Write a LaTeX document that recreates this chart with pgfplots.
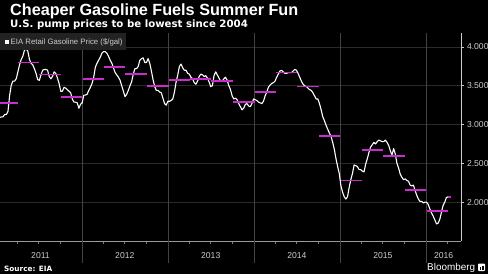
\documentclass[border=0pt]{standalone}
\usepackage{pgfplots}
\pgfplotsset{compat=1.18}
\usepgfplotslibrary{dateplot}
\usepackage{fontspec}
\setmainfont{Liberation Sans}
\newfontfamily\dejavu{DejaVu Sans}
\definecolor{qmag}{RGB}{204,44,204}
\definecolor{gridh}{RGB}{42,42,42}
\definecolor{gridv}{RGB}{66,66,66}
\definecolor{lab}{RGB}{205,205,205}
\definecolor{legbg}{RGB}{34,34,34}
\begin{document}
\begin{tikzpicture}
\fill[black] (0,-33bp) rectangle (488bp,241bp);
\path[use as bounding box] (0,-33bp) rectangle (488bp,241bp);
\begin{axis}[
  at={(0,0)}, anchor=south west,
  scale only axis, width=461bp, height=208bp,
  date coordinates in=x,
  xmin=2011-01-18, xmax=2016-05-29,
  ymin=1.5, ymax=4.18,
  axis x line*=bottom, axis y line*=right,
  x axis line style={draw=lab!75!black, line width=0.8bp},
  y axis line style={draw=lab, line width=0.8bp},
  tick align=outside,
  major tick length=2.5bp, minor tick length=2.5bp,
  xtick={2011-07-09,2012-07-01,2013-07-01,2014-07-02,2015-07-02,2016-03-16},
  xticklabels={2011,2012,2013,2014,2015,2016},
  xtick style={draw=none},
  minor xtick={2011-04-01,2011-07-01,2011-10-01,2012-04-01,2012-07-01,2012-10-01,2013-04-01,2013-07-01,2013-10-01,2014-04-01,2014-07-01,2014-10-01,2015-04-01,2015-07-01,2015-10-01,2016-04-01},
  minor x tick style={draw=lab!60!black, line width=0.6bp},
  extra x ticks={2012-01-01,2013-01-01,2014-01-01,2015-01-01,2016-01-01},
  extra x tick labels={},
  extra x tick style={grid=major, major grid style={draw=gridv, line width=0.8bp}, major tick length=22bp, xtick style={draw=gridv, line width=0.8bp}},
  ytick={2,2.5,3,3.5,4},
  ymajorgrids, major grid style={draw=gridh, line width=0.8bp},
  ytick style={draw=lab, line width=0.6bp},
  tick label style={text=lab, font=\fontsize{8.6bp}{10bp}\selectfont},
  xticklabel style={anchor=base, yshift=-15bp},
  yticklabel style={anchor=west, /pgf/number format/fixed, /pgf/number format/fixed zerofill, /pgf/number format/precision=3, /pgf/number format/assume math mode=true},
  unbounded coords=jump,
]
\addplot[white, line width=1.1bp, line join=round] table[x=date, y=p] {
date p
2011-01-10 3.07
2011-01-17 3.09
2011-01-24 3.10
2011-01-31 3.10
2011-02-07 3.13
2011-02-14 3.13
2011-02-21 3.17
2011-02-28 3.38
2011-03-07 3.51
2011-03-14 3.56
2011-03-21 3.56
2011-03-28 3.59
2011-04-04 3.68
2011-04-11 3.77
2011-04-18 3.84
2011-04-25 3.88
2011-05-02 3.96
2011-05-09 3.97
2011-05-16 3.95
2011-05-23 3.84
2011-05-30 3.79
2011-06-06 3.77
2011-06-13 3.72
2011-06-20 3.66
2011-06-27 3.58
2011-07-04 3.57
2011-07-11 3.64
2011-07-18 3.70
2011-07-25 3.71
2011-08-01 3.71
2011-08-08 3.70
2011-08-15 3.62
2011-08-22 3.59
2011-08-29 3.62
2011-09-05 3.68
2011-09-12 3.66
2011-09-19 3.60
2011-09-26 3.53
2011-10-03 3.43
2011-10-10 3.43
2011-10-17 3.48
2011-10-24 3.47
2011-10-31 3.45
2011-11-07 3.43
2011-11-14 3.41
2011-11-21 3.33
2011-11-28 3.29
2011-12-05 3.29
2011-12-12 3.28
2011-12-19 3.21
2011-12-26 3.26
2012-01-02 3.28
2012-01-09 3.38
2012-01-16 3.38
2012-01-23 3.39
2012-01-30 3.44
2012-02-06 3.48
2012-02-13 3.53
2012-02-20 3.61
2012-02-27 3.74
2012-03-05 3.79
2012-03-12 3.83
2012-03-19 3.87
2012-03-26 3.92
2012-04-02 3.94
2012-04-09 3.94
2012-04-16 3.92
2012-04-23 3.88
2012-04-30 3.83
2012-05-07 3.79
2012-05-14 3.73
2012-05-21 3.67
2012-05-28 3.64
2012-06-04 3.61
2012-06-11 3.57
2012-06-18 3.50
2012-06-25 3.43
2012-07-02 3.36
2012-07-09 3.39
2012-07-16 3.44
2012-07-23 3.50
2012-07-30 3.55
2012-08-06 3.65
2012-08-13 3.72
2012-08-20 3.72
2012-08-27 3.75
2012-09-03 3.83
2012-09-10 3.85
2012-09-17 3.86
2012-09-24 3.80
2012-10-01 3.80
2012-10-08 3.85
2012-10-15 3.79
2012-10-22 3.69
2012-10-29 3.58
2012-11-05 3.49
2012-11-12 3.44
2012-11-19 3.44
2012-11-26 3.42
2012-12-03 3.41
2012-12-10 3.34
2012-12-17 3.27
2012-12-24 3.25
2012-12-31 3.30
2013-01-07 3.30
2013-01-14 3.31
2013-01-21 3.33
2013-01-28 3.42
2013-02-04 3.55
2013-02-11 3.64
2013-02-18 3.75
2013-02-25 3.78
2013-03-04 3.73
2013-03-11 3.70
2013-03-18 3.70
2013-03-25 3.66
2013-04-01 3.65
2013-04-08 3.61
2013-04-15 3.59
2013-04-22 3.54
2013-04-29 3.52
2013-05-06 3.56
2013-05-13 3.62
2013-05-20 3.65
2013-05-27 3.64
2013-06-03 3.62
2013-06-10 3.63
2013-06-17 3.60
2013-06-24 3.55
2013-07-01 3.49
2013-07-08 3.50
2013-07-15 3.63
2013-07-22 3.68
2013-07-29 3.64
2013-08-05 3.60
2013-08-12 3.56
2013-08-19 3.56
2013-08-26 3.59
2013-09-02 3.61
2013-09-09 3.57
2013-09-16 3.50
2013-09-23 3.45
2013-09-30 3.37
2013-10-07 3.33
2013-10-14 3.34
2013-10-21 3.32
2013-10-28 3.27
2013-11-04 3.23
2013-11-11 3.19
2013-11-18 3.21
2013-11-25 3.26
2013-12-02 3.27
2013-12-09 3.24
2013-12-16 3.23
2013-12-23 3.27
2013-12-30 3.33
2014-01-06 3.32
2014-01-13 3.31
2014-01-20 3.29
2014-01-27 3.28
2014-02-03 3.27
2014-02-10 3.30
2014-02-17 3.37
2014-02-24 3.42
2014-03-03 3.48
2014-03-10 3.51
2014-03-17 3.53
2014-03-24 3.54
2014-03-31 3.56
2014-04-07 3.61
2014-04-14 3.65
2014-04-21 3.69
2014-04-28 3.70
2014-05-05 3.68
2014-05-12 3.66
2014-05-19 3.66
2014-05-26 3.67
2014-06-02 3.67
2014-06-09 3.67
2014-06-16 3.69
2014-06-23 3.71
2014-06-30 3.70
2014-07-07 3.66
2014-07-14 3.61
2014-07-21 3.56
2014-07-28 3.52
2014-08-04 3.50
2014-08-11 3.49
2014-08-18 3.47
2014-08-25 3.45
2014-09-01 3.44
2014-09-08 3.41
2014-09-15 3.37
2014-09-22 3.33
2014-09-29 3.33
2014-10-06 3.27
2014-10-13 3.19
2014-10-20 3.10
2014-10-27 3.05
2014-11-03 2.99
2014-11-10 2.94
2014-11-17 2.89
2014-11-24 2.85
2014-12-01 2.77
2014-12-08 2.68
2014-12-15 2.56
2014-12-22 2.46
2014-12-29 2.37
2015-01-05 2.21
2015-01-12 2.13
2015-01-19 2.07
2015-01-26 2.04
2015-02-02 2.07
2015-02-09 2.19
2015-02-16 2.29
2015-02-23 2.37
2015-03-02 2.48
2015-03-09 2.47
2015-03-16 2.46
2015-03-23 2.42
2015-03-30 2.42
2015-04-06 2.40
2015-04-13 2.39
2015-04-20 2.49
2015-04-27 2.56
2015-05-04 2.64
2015-05-11 2.71
2015-05-18 2.74
2015-05-25 2.77
2015-06-01 2.75
2015-06-08 2.78
2015-06-15 2.80
2015-06-22 2.79
2015-06-29 2.78
2015-07-06 2.78
2015-07-13 2.80
2015-07-20 2.77
2015-07-27 2.73
2015-08-03 2.66
2015-08-10 2.61
2015-08-17 2.69
2015-08-24 2.62
2015-08-31 2.50
2015-09-07 2.44
2015-09-14 2.36
2015-09-21 2.32
2015-09-28 2.29
2015-10-05 2.30
2015-10-12 2.28
2015-10-19 2.27
2015-10-26 2.22
2015-11-02 2.21
2015-11-09 2.22
2015-11-16 2.15
2015-11-23 2.09
2015-11-30 2.04
2015-12-07 2.01
2015-12-14 2.01
2015-12-21 1.99
2015-12-28 2.00
2016-01-04 2.00
2016-01-11 1.97
2016-01-18 1.91
2016-01-25 1.86
2016-02-01 1.82
2016-02-08 1.77
2016-02-15 1.72
2016-02-22 1.73
2016-02-29 1.78
2016-03-07 1.87
2016-03-14 1.96
2016-03-21 2.00
2016-03-28 2.06
2016-04-04 2.07
};
\addplot[qmag, line width=1.8bp] table[x=date, y=p] {
date p
2011-01-04 3.28
2011-04-03 3.28
2011-04-03 nan
2011-04-04 3.80
2011-07-03 3.80
2011-07-03 nan
2011-07-04 3.645
2011-10-03 3.645
2011-10-03 nan
2011-10-04 3.36
2012-01-03 3.36
2012-01-03 nan
2012-01-04 3.59
2012-04-03 3.59
2012-04-03 nan
2012-04-04 3.742
2012-07-03 3.742
2012-07-03 nan
2012-07-04 3.65
2012-10-03 3.65
2012-10-03 nan
2012-10-04 3.50
2013-01-03 3.50
2013-01-03 nan
2013-01-04 3.57
2013-04-03 3.57
2013-04-03 nan
2013-04-04 3.59
2013-07-03 3.59
2013-07-03 nan
2013-07-04 3.565
2013-10-03 3.565
2013-10-03 nan
2013-10-04 3.29
2014-01-03 3.29
2014-01-03 nan
2014-01-04 3.415
2014-04-03 3.415
2014-04-03 nan
2014-04-04 3.67
2014-07-03 3.67
2014-07-03 nan
2014-07-04 3.49
2014-10-03 3.49
2014-10-03 nan
2014-10-04 2.85
2015-01-03 2.85
2015-01-03 nan
2015-01-04 2.28
2015-04-03 2.28
2015-04-03 nan
2015-04-04 2.67
2015-07-03 2.67
2015-07-03 nan
2015-07-04 2.60
2015-10-03 2.60
2015-10-03 nan
2015-10-04 2.16
2016-01-03 2.16
2016-01-03 nan
2016-01-04 1.89
2016-04-03 1.89
2016-04-03 nan
2016-04-05 2.07
2016-04-18 2.07
};
\end{axis}
\fill[legbg] (0,191bp) rectangle (126bp,208bp);
\fill[white] (5bp,197bp) rectangle (9bp,201bp);
\node[anchor=base west, inner sep=0, text=lab, font=\fontsize{7.8bp}{9bp}\selectfont] at (10.5bp,196bp) {EIA Retail Gasoline Price (\$/gal)};
\node[anchor=base west, inner sep=0, text=white, font=\fontsize{16.2bp}{18bp}\selectfont\bfseries] at (10bp,225bp) {Cheaper Gasoline Fuels Summer Fun};
\node[anchor=base west, inner sep=0, text=white, font=\dejavu\bfseries\fontsize{10.2bp}{12bp}\selectfont] at (10bp,213bp) {U.S. pump prices to be lowest since 2004};
\node[anchor=base west, inner sep=0, text=white, font=\dejavu\bfseries\fontsize{7.3bp}{9bp}\selectfont] at (4bp,-30bp) {Source: EIA};
\node[anchor=base west, inner sep=0, text=white, font=\fontsize{9.9bp}{11bp}\selectfont] at (427bp,-29bp) {Bloomberg};
\fill[white, rounded corners=0.8bp] (478bp,-30bp) rectangle (485bp,-22.5bp);
\fill[black] (479.5bp,-28.5bp) rectangle (481bp,-26bp);
\fill[black] (482bp,-28.5bp) rectangle (483.5bp,-24.5bp);
\end{tikzpicture}
\end{document}
